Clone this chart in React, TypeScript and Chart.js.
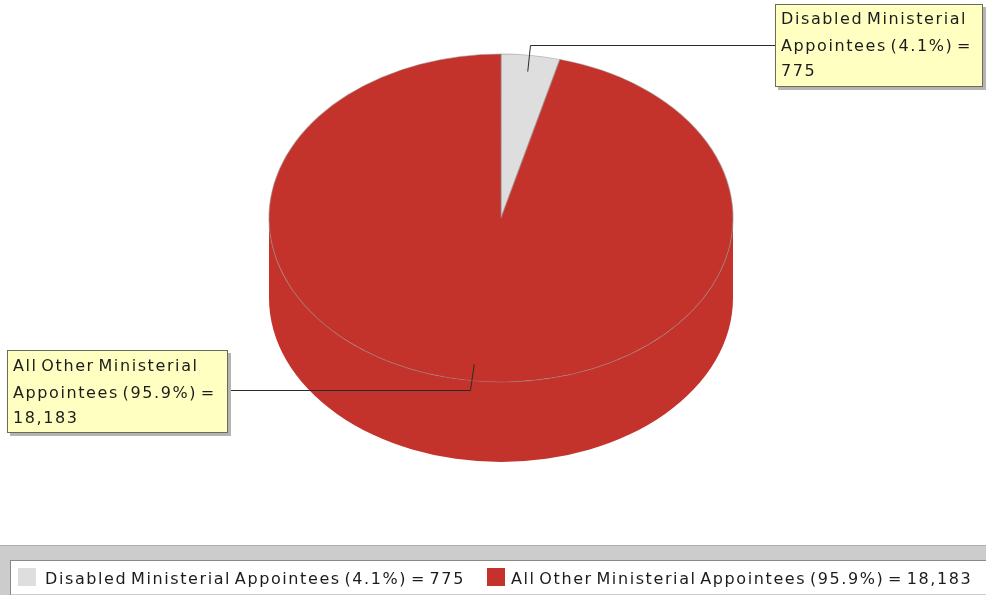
import React, { useEffect, useRef } from "react";
import { Chart, registerables } from "chart.js";

Chart.register(...registerables);

const categories = ["Disabled Ministerial Appointees", "All Other Ministerial Appointees"];
const values = [775, 18183];
const percentLabels = ["4.1%", "95.9%"];
const valueLabels = ["775", "18,183"];
const colors = ["#dedede", "#c4332b"];
const calloutLines = [
  ["Disabled Ministerial", "Appointees (4.1%) =", "775"],
  ["All Other Ministerial", "Appointees (95.9%) =", "18,183"],
];

const FONT = '16px "DejaVu Sans"';
const SPACING = "1.6px";
const WORD_SPACING = "-3px";
const TEXT = "#1c1c1c";
const PIE = { cx: 501, cy: 218, rx: 232, ry: 164, depth: 80 };
const BOXES = [
  { x: 775, y: 4, w: 208, h: 83, elbowX: 530, elbowY: 45, endX: 775, tx: 781, lines: [24, 51, 76] },
  { x: 7, y: 350, w: 221, h: 83, elbowX: 470, elbowY: 390, endX: 231, tx: 13, lines: [371, 398, 423] },
];
const LEGEND = { top: 546, boxTop: 561, boxLeft: 11, swatches: [18, 487], texts: [45, 511], swatchY: 568, size: 18, baseline: 584 };

const pie3d = {
  id: "pie3d",
  beforeDatasetDraw(chart: any) {
    const { ctx } = chart;
    const arcs = chart.getDatasetMeta(0).data;
    const { cx, cy, rx, ry, depth } = PIE;
    ctx.save();
    arcs.forEach((arc: any, i: number) => {
      const a = Math.max(arc.startAngle, 0);
      const b = Math.min(arc.endAngle, Math.PI);
      if (b <= a) return;
      ctx.beginPath();
      ctx.ellipse(cx, cy, rx, ry, 0, a, b);
      ctx.ellipse(cx, cy + depth, rx, ry, 0, b, a, true);
      ctx.closePath();
      ctx.fillStyle = colors[i];
      ctx.fill();
    });
    const ref = arcs[0];
    const sx = rx / ref.outerRadius;
    const sy = ry / ref.outerRadius;
    ctx.translate(cx, cy);
    ctx.scale(sx, sy);
    ctx.translate(-ref.x, -ref.y);
  },
  afterDatasetDraw(chart: any) {
    const { ctx } = chart;
    ctx.restore();
    const arcs = chart.getDatasetMeta(0).data;
    ctx.save();
    ctx.font = FONT;
    ctx.letterSpacing = SPACING;
    ctx.wordSpacing = WORD_SPACING;
    ctx.textBaseline = "alphabetic";

    arcs.forEach((arc: any, i: number) => {
      const box = BOXES[i];
      const mid = (arc.startAngle + arc.endAngle) / 2;
      const ax = PIE.cx + PIE.rx * 0.9 * Math.cos(mid);
      const ay = PIE.cy + PIE.ry * 0.9 * Math.sin(mid);
      ctx.beginPath();
      ctx.moveTo(ax, ay);
      ctx.lineTo(box.elbowX + 0.5, box.elbowY + 0.5);
      ctx.lineTo(box.endX, box.elbowY + 0.5);
      ctx.strokeStyle = "#2b2b2b";
      ctx.lineWidth = 1;
      ctx.stroke();

      ctx.fillStyle = "#b4b4b0";
      ctx.fillRect(box.x + 3, box.y + 3, box.w, box.h);
      ctx.fillStyle = "#ffffc2";
      ctx.fillRect(box.x, box.y, box.w, box.h);
      ctx.strokeStyle = "#6b6b5c";
      ctx.strokeRect(box.x + 0.5, box.y + 0.5, box.w - 1, box.h - 1);

      ctx.fillStyle = TEXT;
      calloutLines[i].forEach((line, j) => ctx.fillText(line, box.tx, box.lines[j]));
    });

    const W = chart.width;
    const H = chart.height;
    ctx.fillStyle = "#cccccc";
    ctx.fillRect(0, LEGEND.top, W, H - LEGEND.top);
    ctx.fillStyle = "#b0b0b0";
    ctx.fillRect(0, LEGEND.top - 1, W, 1);
    ctx.fillStyle = "#ffffff";
    ctx.fillRect(LEGEND.boxLeft, LEGEND.boxTop, W - LEGEND.boxLeft, H - 1 - LEGEND.boxTop);
    ctx.fillStyle = "#8a8a8a";
    ctx.fillRect(LEGEND.boxLeft, LEGEND.boxTop - 1, W - LEGEND.boxLeft, 1);
    ctx.fillRect(LEGEND.boxLeft - 1, LEGEND.boxTop - 1, 1, H - LEGEND.boxTop + 1);

    categories.forEach((name, i) => {
      ctx.fillStyle = colors[i];
      ctx.fillRect(LEGEND.swatches[i], LEGEND.swatchY, LEGEND.size, LEGEND.size);
      ctx.fillStyle = TEXT;
      ctx.fillText(`${name} (${percentLabels[i]}) = ${valueLabels[i]}`, LEGEND.texts[i], LEGEND.baseline);
    });
    ctx.restore();
  },
};

export default function App() {
  const ref = useRef<HTMLCanvasElement>(null);
  useEffect(() => {
    const chart = new Chart(ref.current as HTMLCanvasElement, {
      type: "pie",
      data: {
        labels: categories,
        datasets: [
          {
            data: values,
            backgroundColor: colors,
            borderColor: "rgba(150,140,140,0.5)",
            borderWidth: 1.6,
            clip: false,
          } as any,
        ],
      },
      options: {
        responsive: false,
        animation: false,
        plugins: { legend: { display: false }, tooltip: { enabled: false } },
      },
      plugins: [pie3d],
    });
    return () => chart.destroy();
  }, []);
  return (
    <div style={{ position: "absolute", left: 0, top: 0, width: 986, height: 595, background: "#ffffff" }}>
      <canvas ref={ref} width={986} height={595} style={{ display: "block" }} />
    </div>
  );
}
